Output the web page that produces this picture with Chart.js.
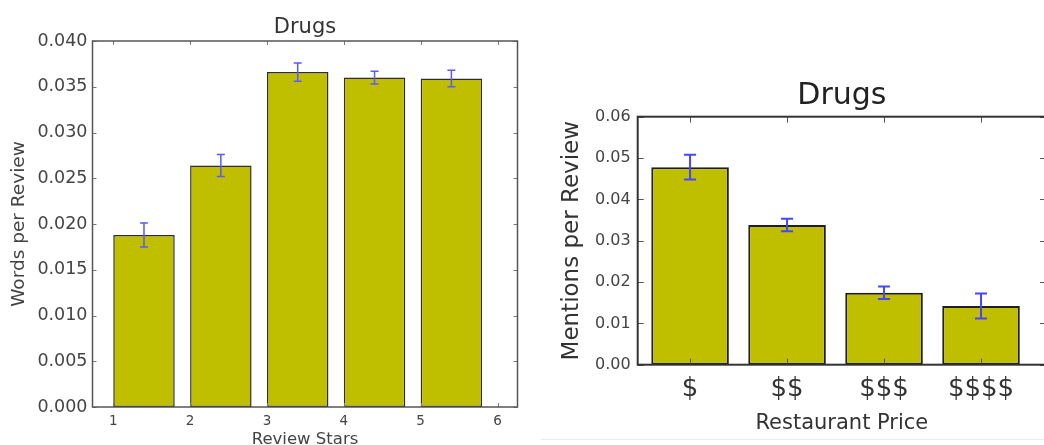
<!DOCTYPE html>
<html>
<head>
<meta charset="utf-8">
<script src="https://cdn.jsdelivr.net/npm/chart.js@4"></script>
<style>
    html, body { margin: 0; padding: 0; background: #fff; }
    body { width: 1044px; height: 445px; overflow: hidden; position: relative; }
    #stars { position: absolute; left: 0; top: 0; }
    #price { position: absolute; left: 540px; top: 0; }
    .rule { position: absolute; left: 541px; top: 439px; width: 503px; height: 0; border-top: 1px solid #ececec; }
</style>
</head>
<body>
<canvas id="stars" width="525" height="460"></canvas>
<canvas id="price" width="510" height="445"></canvas>
<div class="rule"></div>
<script>
// Left chart: by review stars
const stars = [1, 2, 3, 4, 5];
const wordsPerReview = [0.0188, 0.0264, 0.0366, 0.0360, 0.0359];
const wordsErr = [0.0013, 0.0012, 0.0010, 0.0007, 0.0009];

// Right chart: by restaurant price
const priceLabels = ['$', '$$', '$$$', '$$$$'];
const mentionsPerReview = [0.0478, 0.0338, 0.0174, 0.0142];
const mentionsErr = [0.0030, 0.0015, 0.0015, 0.0030];

const BAR_W = 0.8;
const BAR_FILL = '#bfbf00';

Chart.defaults.font.family = '"DejaVu Sans", sans-serif';

// Error bars drawn from the dataset's own errors array
const errorBars = {
    id: 'errorBars',
    afterDatasetsDraw(chart, args, opts) {
        const ctx = chart.ctx;
        const y = chart.scales.y;
        chart.data.datasets.forEach((ds, di) => {
            const meta = chart.getDatasetMeta(di);
            meta.data.forEach((bar, i) => {
                const v = ds.data[i].y, e = ds.errors[i];
                const top = y.getPixelForValue(v + e);
                const bot = y.getPixelForValue(v - e);
                ctx.save();
                ctx.strokeStyle = opts.color;
                ctx.lineWidth = opts.width;
                ctx.beginPath();
                ctx.moveTo(bar.x, top); ctx.lineTo(bar.x, bot);
                ctx.moveTo(bar.x - opts.cap, top); ctx.lineTo(bar.x + opts.cap, top);
                ctx.moveTo(bar.x - opts.cap, bot); ctx.lineTo(bar.x + opts.cap, bot);
                ctx.stroke();
                ctx.restore();
            });
        });
    }
};

// Box frame with inward ticks on all four sides
const frame = {
    id: 'frame',
    afterDraw(chart, args, opts) {
        const ctx = chart.ctx;
        const a = chart.chartArea;
        const xs = chart.scales.x, ys = chart.scales.y;
        ctx.save();
        ctx.strokeStyle = opts.tickColor;
        ctx.lineWidth = 1;
        ctx.beginPath();
        xs.ticks.forEach(t => {
            const px = Math.round(xs.getPixelForValue(t.value)) + 0.5;
            ctx.moveTo(px, a.bottom); ctx.lineTo(px, a.bottom - opts.len);
            ctx.moveTo(px, a.top); ctx.lineTo(px, a.top + opts.len);
        });
        ys.ticks.forEach(t => {
            const py = Math.round(ys.getPixelForValue(t.value)) + 0.5;
            ctx.moveTo(a.left, py); ctx.lineTo(a.left + opts.len, py);
            ctx.moveTo(a.right, py); ctx.lineTo(a.right - opts.len, py);
        });
        ctx.stroke();
        ctx.strokeStyle = opts.color;
        ctx.lineWidth = opts.width;
        ctx.strokeRect(a.left, a.top, a.right - a.left, a.bottom - a.top);
        ctx.restore();
    }
};

new Chart(document.getElementById('stars'), {
    type: 'bar',
    data: {
        datasets: [{
            data: stars.map((s, i) => ({ x: s + BAR_W / 2, y: wordsPerReview[i] })),
            errors: wordsErr,
            backgroundColor: BAR_FILL,
            borderColor: '#2e2e2e',
            borderWidth: 1.5,
            borderSkipped: false,
            barPercentage: BAR_W,
            categoryPercentage: 1
        }]
    },
    options: {
        responsive: false,
        animation: false,
        layout: { padding: { right: 7.5 } },
        plugins: {
            legend: { display: false },
            tooltip: { enabled: false },
            title: {
                display: true, text: 'Drugs', fullSize: false, color: '#333',
                font: { size: 21, weight: 'normal' },
                padding: { top: 14.5, bottom: 1.3 }
            },
            errorBars: { color: '#5a5aff', width: 1.5, cap: 4 },
            frame: { color: '#555', width: 1.5, tickColor: '#777', len: 4 }
        },
        scales: {
            x: {
                type: 'linear', min: 0.73, max: 6.26, offset: false,
                grid: { display: false, drawTicks: false }, border: { display: false },
                ticks: { stepSize: 1, includeBounds: false, color: '#444', font: { size: 13.5 }, padding: 5.9 },
                title: { display: true, text: 'Review Stars', color: '#444', font: { size: 16.5 }, padding: { top: 0, bottom: 10.5 } },
                afterFit: s => { s.height = 53; }
            },
            y: {
                min: 0, max: 0.04,
                grid: { display: false, drawTicks: false }, border: { display: false },
                ticks: { stepSize: 0.005, color: '#444', font: { size: 17.5 }, padding: 5, callback: v => v.toFixed(3) },
                title: { display: true, text: 'Words per Review', color: '#444', font: { size: 18.5 }, padding: { top: 8.4, bottom: 0 } },
                afterFit: s => { s.width = 92.5; }
            }
        }
    },
    plugins: [errorBars, frame]
});

new Chart(document.getElementById('price'), {
    type: 'bar',
    data: {
        datasets: [{
            data: priceLabels.map((p, i) => ({ x: i, y: mentionsPerReview[i] })),
            errors: mentionsErr,
            backgroundColor: BAR_FILL,
            borderColor: '#1e1e1e',
            borderWidth: 2,
            borderSkipped: false,
            barPercentage: BAR_W,
            categoryPercentage: 1
        }]
    },
    options: {
        responsive: false,
        animation: false,
        layout: { padding: { right: 4 } },
        plugins: {
            legend: { display: false },
            tooltip: { enabled: false },
            title: {
                display: true, text: 'Drugs', fullSize: false, color: '#222',
                font: { size: 30, weight: 'normal' },
                padding: { top: 78.1, bottom: 2.6 }
            },
            errorBars: { color: '#4646ff', width: 2, cap: 6 },
            frame: { color: '#333', width: 2, tickColor: '#555', len: 6 }
        },
        scales: {
            x: {
                type: 'linear', min: -0.54, max: 3.67, offset: false,
                grid: { display: false, drawTicks: false }, border: { display: false },
                ticks: { stepSize: 1, includeBounds: false, color: '#333', font: { size: 26 }, padding: 8.7,
                    callback: v => priceLabels[v] },
                title: { display: true, text: 'Restaurant Price', color: '#333', font: { size: 21 }, padding: { top: 0, bottom: 8.7 } },
                afterFit: s => { s.height = 80.3; }
            },
            y: {
                min: 0, max: 0.06,
                grid: { display: false, drawTicks: false }, border: { display: false },
                ticks: { stepSize: 0.01, color: '#444', font: { size: 16 }, padding: 7, callback: v => v.toFixed(2) },
                title: { display: true, text: 'Mentions per Review', color: '#333', font: { size: 23 }, padding: { top: 18.7, bottom: 0 } },
                afterFit: s => { s.width = 97.7; }
            }
        }
    },
    plugins: [errorBars, frame]
});
</script>
</body>
</html>
